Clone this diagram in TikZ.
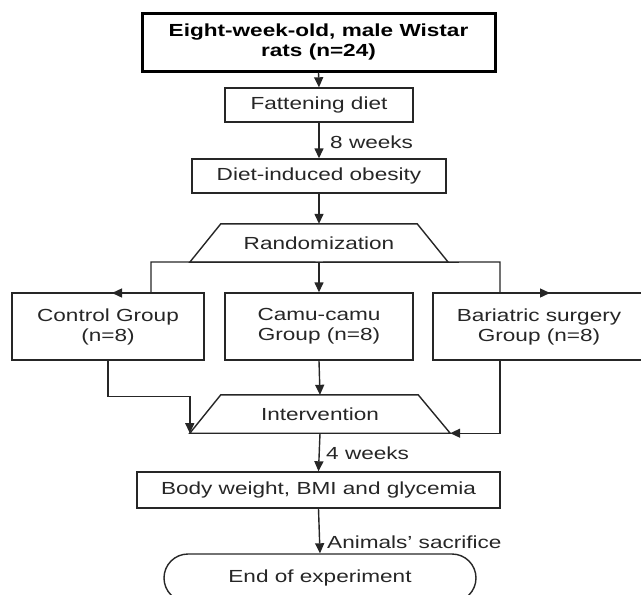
\documentclass[tikz,border=0pt]{standalone}
\usepackage{fontspec}
\setmainfont{Liberation Sans}[FakeStretch=1.29]
\usetikzlibrary{shapes.misc,arrows.meta,calc}
\definecolor{ink}{HTML}{262626}
\begin{document}
\begin{tikzpicture}[x=1pt,y=-1pt,
  every node/.style={text=ink,font=\fontsize{17.5}{20}\selectfont},
  box/.style={draw=ink,line width=1.4pt,rectangle,inner sep=0pt,align=center},
  trapbody/.style={rectangle,inner sep=0pt,minimum height=38pt},
  lbl/.style={anchor=west,inner sep=0pt},
  arr/.style={draw=ink,line width=1.4pt,-{Triangle[length=10pt,width=9pt]}},
  ln/.style={draw=ink,line width=1.4pt,line join=miter}]
\useasboundingbox (0,0) rectangle (641,595);

\node[box,line width=3pt,draw=black,minimum width=353pt,minimum height=58pt,
  font=\bfseries\fontsize{17.5}{20}\selectfont,text=black] (top) at (318.5,42)
  {Eight-week-old, male Wistar\\rats (n=24)};
\node[box,minimum width=188pt,minimum height=34pt] (fat) at (319,105) {Fattening diet};
\node[box,minimum width=254pt,minimum height=34pt] (dio) at (319,176) {Diet-induced obesity};
\node[trapbody,minimum width=258pt] (rand) at (319,243) {Randomization};
\node[box,minimum width=192pt,minimum height=67pt] (ctrl) at (108,326.5) {Control Group\\(n=8)};
\node[box,minimum width=188pt,minimum height=67pt] (camu) at (319,326.5) {Camu-camu\\Group (n=8)};
\node[box,minimum width=212pt,minimum height=67pt] (bari) at (539,326.5) {Bariatric surgery\\Group (n=8)};
\node[trapbody,minimum width=260pt] (interv) at (320,414) {Intervention};
\node[box,minimum width=363pt,minimum height=36pt] (body) at (318.5,490) {Body weight, BMI and glycemia};
\node[draw=ink,line width=1.4pt,rounded rectangle,inner sep=0pt,minimum width=312pt,minimum height=48pt] (end) at (320,578) {End of experiment};

\draw[ln] (rand.south west) -- ($(rand.north west)+(31,0)$) -- ($(rand.north east)+(-31,0)$) -- (rand.south east) -- cycle;
\draw[ln] (interv.south west) -- ($(interv.north west)+(31,0)$) -- ($(interv.north east)+(-32,0)$) -- (interv.south east) -- cycle;

\node[lbl] (w8) at (330,142) {8 weeks};
\node[lbl] (w4) at (326,453) {4 weeks};
\node[lbl] (sac) at (327,542) {Animals' sacrifice};

\coordinate (rl) at (151,262);
\coordinate (rr) at (500,262);
\coordinate (cl) at (112,293);
\coordinate (cr) at (550,293);
\coordinate (bs) at (500,360);

\draw[arr] (top.south) -- (fat.north);
\draw[arr] (fat.south) -- (dio.north);
\draw[arr] (dio.south) -- (rand.north);
\draw[arr] (rand.south) -- (camu.north);
\draw[arr] (rand.south) -- (rl) |- (cl);
\draw[arr] (rand.south) -- (rr) |- (cr);
\draw[arr] (ctrl.south) -- ++(0,36) -| (interv.south west);
\draw[arr] (camu.south) -- (interv.north);
\draw[arr] (bs) |- (interv.south east);
\draw[arr] (interv.south) -- (body.north);
\draw[arr] (body.south) -- (end.north);
\end{tikzpicture}
\end{document}
